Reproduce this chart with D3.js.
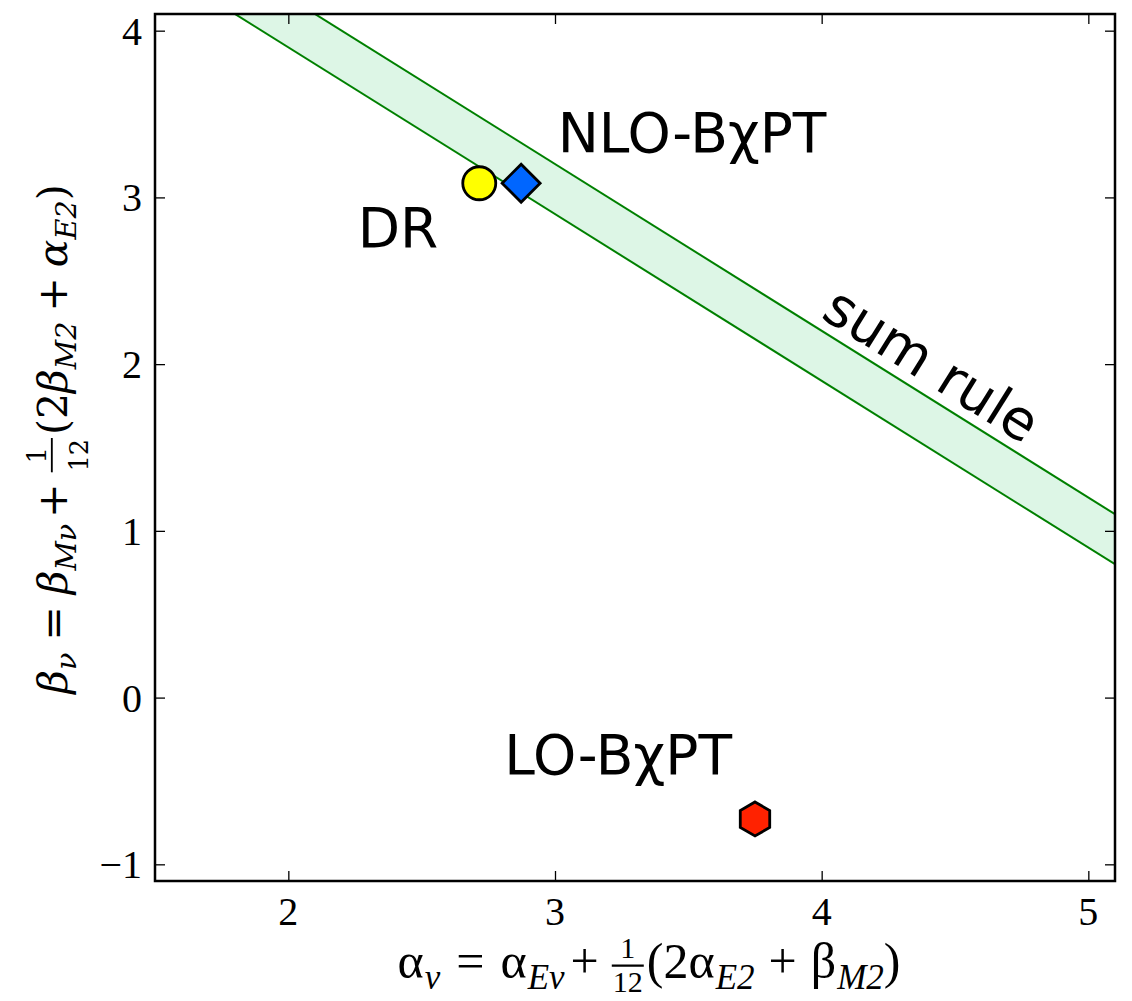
<!DOCTYPE html>
<html>
<head>
<meta charset="utf-8">
<script src="https://cdn.jsdelivr.net/npm/d3@7.9.0/dist/d3.min.js"></script>
<style>
  body { margin: 0; background: #fff; }
  svg { display: block; }
  .tick-label { font-family: "Liberation Serif", serif; font-size: 40px; fill: #000; }
  .math { fill: #000; }
  .anno { font-family: "DejaVu Sans", sans-serif; font-size: 55px; fill: #000; }
</style>
</head>
<body>
<svg id="chart" width="1132" height="1001"></svg>
<script>
// data
const models = ["DR", "NLO-BχPT", "LO-BχPT"];
const alphaNu = [2.716, 2.873, 3.75];
const betaNu = [3.085, 3.085, -0.728];
const shapes = ["circle", "diamond", "hexagon"];
const fills = ["#ffff00", "#0066ff", "#ff2200"];
// label anchors in data coordinates
const labelX = [2.26, 3.01, 2.81];
const labelY = [2.7, 3.27, -0.46];

// sum rule band: alpha + beta between these
const sumRuleLow = 5.9;
const sumRuleHigh = 6.2;

const xTicks = [2, 3, 4, 5];
const yTicks = [-1, 0, 1, 2, 3, 4];

const margin = { left: 155, right: 17, top: 14, bottom: 120 };
const width = 1132, height = 1001;
const svg = d3.select("#chart");

const x = d3.scaleLinear().domain([1.5, 5.1]).range([margin.left, width - margin.right]);
const y = d3.scaleLinear().domain([-1.1, 4.1]).range([height - margin.bottom, margin.top]);

svg.append("clipPath").attr("id", "plot-clip")
  .append("rect")
  .attr("x", x(1.5)).attr("y", y(4.1))
  .attr("width", x(5.1) - x(1.5)).attr("height", y(-1.1) - y(4.1));

const plot = svg.append("g").attr("clip-path", "url(#plot-clip)");

const bandXs = [1.5, 5.1];
const area = d3.area()
  .x((d) => x(d))
  .y0((d) => y(sumRuleLow - d))
  .y1((d) => y(sumRuleHigh - d));

plot.append("path").datum(bandXs)
  .attr("d", area)
  .attr("fill", "#ddf6e6");

[sumRuleLow, sumRuleHigh].forEach((c) => {
  plot.append("path").datum(bandXs)
    .attr("d", d3.line().x((d) => x(d)).y((d) => y(c - d)))
    .attr("fill", "none")
    .attr("stroke", "#008000")
    .attr("stroke-width", 2);
});

// axes with inward ticks on all four sides
const tickLen = 10;
svg.append("g").attr("transform", `translate(0,${y(-1.1)})`)
  .call(d3.axisBottom(x).tickValues(xTicks).tickSizeInner(-tickLen).tickSizeOuter(0).tickFormat(""));
svg.append("g").attr("transform", `translate(0,${y(4.1)})`)
  .call(d3.axisTop(x).tickValues(xTicks).tickSizeInner(-tickLen).tickSizeOuter(0).tickFormat(""));
svg.append("g").attr("transform", `translate(${x(1.5)},0)`)
  .call(d3.axisLeft(y).tickValues(yTicks).tickSizeInner(-tickLen).tickSizeOuter(0).tickFormat(""));
svg.append("g").attr("transform", `translate(${x(5.1)},0)`)
  .call(d3.axisRight(y).tickValues(yTicks).tickSizeInner(-tickLen).tickSizeOuter(0).tickFormat(""));
svg.selectAll(".domain").remove();
svg.selectAll(".tick line").attr("stroke", "#000").attr("stroke-width", 1.3);

svg.append("rect")
  .attr("x", x(1.5)).attr("y", y(4.1))
  .attr("width", x(5.1) - x(1.5)).attr("height", y(-1.1) - y(4.1))
  .attr("fill", "none").attr("stroke", "#000").attr("stroke-width", 2.5);

svg.append("g").selectAll("text").data(xTicks).join("text")
  .attr("class", "tick-label")
  .attr("x", (d) => x(d)).attr("y", y(-1.1) + 44)
  .attr("text-anchor", "middle")
  .text((d) => d);

svg.append("g").selectAll("text").data(yTicks).join("text")
  .attr("class", "tick-label")
  .attr("x", x(1.5) - 13).attr("y", (d) => y(d) + 14)
  .attr("text-anchor", "end")
  .text((d) => (d < 0 ? "\u2212" + Math.abs(d) : d));

// markers
const circleR = 16.5;
const diamondHalf = 19;
function hexPath(r) {
  const pts = d3.range(6).map((i) => {
    const a = Math.PI / 3 * i - Math.PI / 2;
    return [r * Math.cos(a), r * Math.sin(a)];
  });
  return d3.line()(pts) + "Z";
}
models.forEach((m, i) => {
  const g = svg.append("g").attr("transform", `translate(${x(alphaNu[i])},${y(betaNu[i])})`);
  let path;
  if (shapes[i] === "circle") {
    path = g.append("path").attr("d", d3.symbol(d3.symbolCircle, Math.PI * circleR * circleR)());
  } else if (shapes[i] === "diamond") {
    const side = diamondHalf * Math.SQRT2;
    path = g.append("path").attr("d", d3.symbol(d3.symbolSquare, side * side)()).attr("transform", "rotate(45)");
  } else {
    path = g.append("path").attr("d", hexPath(17));
  }
  path.attr("fill", fills[i]).attr("stroke", "#000").attr("stroke-width", 2.8);
});

models.forEach((m, i) => {
  svg.append("text").attr("class", "anno")
    .attr("x", x(labelX[i])).attr("y", y(labelY[i]))
    .text(m);
});

svg.append("text").attr("class", "anno")
  .attr("font-size", 54)
  .attr("text-anchor", "middle")
  .attr("transform", `translate(${x(4.375)},${y(1.9)}) rotate(32)`)
  .text("sum rule");

// math-ish axis labels built from pieces
function mathLabel(parent, parts, opts) {
  const fs = opts.size;
  const g = parent.append("g");
  let cx = 0;
  parts.forEach((p) => {
    if (p.frac) {
      const small = fs * opts.fracScale;
      const n = g.append("text").attr("class", "math").attr("font-family", opts.family)
        .attr("font-size", small).attr("text-anchor", "middle").attr("y", opts.numY * fs).text(p.frac[0]);
      const d = g.append("text").attr("class", "math").attr("font-family", opts.family)
        .attr("font-size", small).attr("text-anchor", "middle").attr("y", opts.denY * fs).text(p.frac[1]);
      const w = Math.max(n.node().getComputedTextLength(), d.node().getComputedTextLength()) + 4;
      n.attr("x", cx + w / 2);
      d.attr("x", cx + w / 2);
      g.append("line").attr("x1", cx + 1).attr("x2", cx + w - 1)
        .attr("y1", opts.barY * fs).attr("y2", opts.barY * fs)
        .attr("stroke", "#000").attr("stroke-width", fs * 0.045);
      cx += w + 2;
      return;
    }
    const size = p.sub ? fs * 0.7 : fs;
    const t = g.append("text").attr("class", "math")
      .attr("font-family", opts.family)
      .attr("font-size", size)
      .attr("font-style", (p.greek ? opts.greekItalic : p.it) ? "italic" : "normal")
      .attr("x", cx).attr("y", p.sub ? 0.22 * fs : 0)
      .text(p.t);
    cx += t.node().getComputedTextLength() + (p.gap || 0);
  });
  return { g, w: cx };
}

const xLabelParts = [
  { t: "α", greek: true, gap: 1 }, { t: "ν", it: true, sub: true, gap: 16 },
  { t: "=", gap: 16 }, { t: "α", greek: true, gap: 1 }, { t: "Eν", it: true, sub: true, gap: 6 },
  { t: "+", gap: 12 }, { frac: ["1", "12"] },
  { t: "(2" }, { t: "α", greek: true, gap: 1 }, { t: "E2", it: true, sub: true, gap: 14 },
  { t: "+", gap: 14 }, { t: "β", greek: true, gap: 1 }, { t: "M2", it: true, sub: true }, { t: ")" },
];
const yLabelParts = [
  { t: "β", greek: true }, { t: "ν", it: true, sub: true, gap: 12 },
  { t: "=", gap: 12 }, { t: "β", greek: true }, { t: "Mν", it: true, sub: true, gap: 6 },
  { t: "+", gap: 10 }, { frac: ["1", "12"] },
  { t: "(2" }, { t: "β", greek: true }, { t: "M2", it: true, sub: true, gap: 10 },
  { t: "+", gap: 10 }, { t: "α", greek: true }, { t: "E2", it: true, sub: true }, { t: ")" },
];

const xl = mathLabel(svg, xLabelParts, {
  family: "Liberation Serif", size: 50, greekItalic: false, fracScale: 0.6,
  numY: -0.4, barY: -0.25, denY: 0.28,
});
xl.g.attr("transform", `translate(${649 - xl.w / 2},978)`);

const yl = mathLabel(svg, yLabelParts, {
  family: "DejaVu Serif", size: 41, greekItalic: true, fracScale: 0.62,
  numY: -0.52, barY: -0.37, denY: 0.5,
});
yl.g.attr("transform", `translate(67,${439 + yl.w / 2}) rotate(-90)`);
</script>
</body>
</html>
